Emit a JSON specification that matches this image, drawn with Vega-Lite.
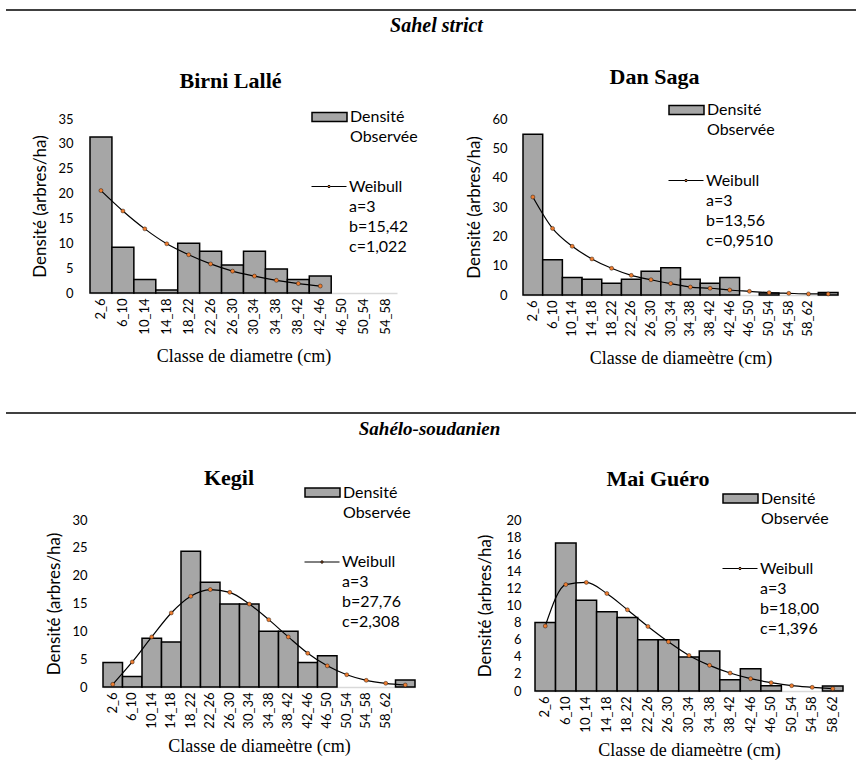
{
  "$schema": "https://vega.github.io/schema/vega-lite/v6.json",
  "padding": {"left": 5, "top": 9, "right": 0, "bottom": 0},
  "background": "white",
  "config": {
    "view": {"stroke": null},
    "style": {"guide-label": {"lineHeight": 20}},
    "legend": {"labelFont": "Lato", "labelFontSize": 16, "labelColor": "black", "padding": 0, "labelOffset": 2, "labelLimit": 200},
    "title": {"font": "Liberation Serif", "fontSize": 22, "fontWeight": "bold", "color": "black"}
  },
  "datasets": {
    "birni": [
      {"classe": "2_6", "dens": 31.4, "weib": 20.6},
      {"classe": "6_10", "dens": 9.2, "weib": 16.5},
      {"classe": "10_14", "dens": 2.7, "weib": 12.9},
      {"classe": "14_18", "dens": 0.6, "weib": 9.9},
      {"classe": "18_22", "dens": 10.0, "weib": 7.7},
      {"classe": "22_26", "dens": 8.4, "weib": 5.85},
      {"classe": "26_30", "dens": 5.65, "weib": 4.4},
      {"classe": "30_34", "dens": 8.4, "weib": 3.4},
      {"classe": "34_38", "dens": 4.85, "weib": 2.55},
      {"classe": "38_42", "dens": 2.7, "weib": 1.9},
      {"classe": "42_46", "dens": 3.4, "weib": 1.4},
      {"classe": "46_50", "dens": null, "weib": null},
      {"classe": "50_54", "dens": null, "weib": null},
      {"classe": "54_58", "dens": null, "weib": null}
    ],
    "dansaga": [
      {"classe": "2_6", "dens": 54.8, "weib": 33.4},
      {"classe": "6_10", "dens": 12.0, "weib": 22.7},
      {"classe": "10_14", "dens": 6.0, "weib": 16.6},
      {"classe": "14_18", "dens": 5.35, "weib": 12.3},
      {"classe": "18_22", "dens": 4.0, "weib": 9.1},
      {"classe": "22_26", "dens": 5.35, "weib": 6.7},
      {"classe": "26_30", "dens": 8.1, "weib": 5.2},
      {"classe": "30_34", "dens": 9.3, "weib": 3.9},
      {"classe": "34_38", "dens": 5.35, "weib": 2.7},
      {"classe": "38_42", "dens": 4.0, "weib": 2.3},
      {"classe": "42_46", "dens": 6.0, "weib": 1.7},
      {"classe": "46_50", "dens": null, "weib": 1.25},
      {"classe": "50_54", "dens": 0.7, "weib": 0.8},
      {"classe": "54_58", "dens": null, "weib": 0.57},
      {"classe": "58_62", "dens": null, "weib": 0.38},
      {"classe": "62_66", "dens": 0.85, "weib": 0.35}
    ],
    "kegil": [
      {"classe": "2_6", "dens": 4.4, "weib": 0.48},
      {"classe": "6_10", "dens": 1.9, "weib": 4.5},
      {"classe": "10_14", "dens": 8.76, "weib": 9.0},
      {"classe": "14_18", "dens": 8.1, "weib": 13.3},
      {"classe": "18_22", "dens": 24.4, "weib": 16.3},
      {"classe": "22_26", "dens": 18.8, "weib": 17.5},
      {"classe": "26_30", "dens": 14.9, "weib": 17.0},
      {"classe": "30_34", "dens": 14.9, "weib": 14.9},
      {"classe": "34_38", "dens": 10.0, "weib": 12.1},
      {"classe": "38_42", "dens": 10.0, "weib": 9.0},
      {"classe": "42_46", "dens": 4.4, "weib": 6.06},
      {"classe": "46_50", "dens": 5.6, "weib": 3.8},
      {"classe": "50_54", "dens": null, "weib": 2.2},
      {"classe": "54_58", "dens": null, "weib": 1.2},
      {"classe": "58_62", "dens": null, "weib": 0.66},
      {"classe": "62_66", "dens": 1.26, "weib": 0.36}
    ],
    "maiguero": [
      {"classe": "2_6", "dens": 8.0, "weib": 7.6},
      {"classe": "6_10", "dens": 17.3, "weib": 12.45},
      {"classe": "10_14", "dens": 10.6, "weib": 12.7},
      {"classe": "14_18", "dens": 9.26, "weib": 11.4},
      {"classe": "18_22", "dens": 8.6, "weib": 9.5},
      {"classe": "22_26", "dens": 6.0, "weib": 7.55},
      {"classe": "26_30", "dens": 6.0, "weib": 5.75},
      {"classe": "30_34", "dens": 3.97, "weib": 4.16},
      {"classe": "34_38", "dens": 4.67, "weib": 3.0},
      {"classe": "38_42", "dens": 1.32, "weib": 2.1},
      {"classe": "42_46", "dens": 2.6, "weib": 1.44},
      {"classe": "46_50", "dens": 0.62, "weib": 0.97},
      {"classe": "50_54", "dens": null, "weib": 0.62},
      {"classe": "54_58", "dens": null, "weib": 0.43},
      {"classe": "58_62", "dens": 0.58, "weib": 0.27}
    ]
  },
  "spacing": 44,
  "resolve": {"scale": {"fill": "independent", "stroke": "independent"}, "legend": {"fill": "independent", "stroke": "independent"}},
  "vconcat": [
    {
      "spacing": 24,
      "resolve": {"scale": {"fill": "independent", "stroke": "independent"}, "legend": {"fill": "independent", "stroke": "independent"}},
      "vconcat": [
        {
          "width": 851, "height": 32,
          "data": {"values": [{"label": "Sahel strict"}]},
          "layer": [
            {"mark": {"type": "rule", "stroke": "black", "strokeWidth": 1.5}, "encoding": {"y": {"datum": 1, "type": "quantitative", "scale": {"domain": [0, 1]}, "axis": null}}},
            {"mark": {"type": "text", "font": "Liberation Serif", "fontStyle": "italic", "fontWeight": "bold", "fontSize": 20, "dx": 5, "baseline": "middle"}, "encoding": {"text": {"field": "label"}, "y": {"datum": 0.5, "type": "quantitative"}}}
          ]
        },
        {
          "spacing": 0,
          "resolve": {"scale": {"fill": "independent", "stroke": "independent"}, "legend": {"fill": "independent", "stroke": "independent"}},
          "hconcat": [
            {"width": 25, "height": 1, "data": {"values": []}, "mark": {"type": "rule"}, "encoding": {}},
            {
              "spacing": 47,
              "resolve": {"scale": {"fill": "independent", "stroke": "independent"}, "legend": {"fill": "independent", "stroke": "independent"}},
              "hconcat": [
                {
                  "width": 307, "height": 174,
                  "title": {"text": "Birni Lallé", "dx": -13, "offset": 6},
                  "data": {"name": "birni"},
                  "encoding": {"x": {"field": "classe", "type": "nominal", "sort": null, "scale": {"domain": ["2_6","6_10","10_14","14_18","18_22","22_26","26_30","30_34","34_38","38_42","42_46","46_50","50_54","54_58"], "paddingInner": 0, "paddingOuter": 0}, "axis": {"title": "Classe de diametre (cm)", "labelAngle": -90, "labelFont": "Lato", "labelFontSize": 13, "labelColor": "black", "labelPadding": 5, "ticks": false, "grid": false, "domainColor": "#d9d9d9", "domainWidth": 1.5, "titleFont": "Liberation Serif", "titleFontSize": 18, "titleFontWeight": "normal", "titleColor": "black", "titlePadding": 13}}},
                  "layer": [
                    {"mark": {"type": "bar", "stroke": "black", "strokeWidth": 1.5}, "encoding": {
                      "y": {"field": "dens", "type": "quantitative", "scale": {"domain": [0, 35]}, "axis": {"values": [0,5,10,15,20,25,30,35], "title": "Densité (arbres/ha)", "domain": false, "ticks": false, "grid": false, "labelOverlap": false, "labelFont": "Lato", "labelFontSize": 13, "labelColor": "black", "labelPadding": 17, "titleFont": "Lato", "titleFontSize": 17, "titleFontWeight": "normal", "titleColor": "black", "titlePadding": 8}},
                      "fill": {"datum": "Densité", "scale": {"range": ["#A6A6A6"]}, "legend": {"orient": "none", "legendX": 221, "legendY": -20.5, "symbolType": "M-1,-0.26H1V0.26H-1Z", "symbolSize": 1225, "symbolStrokeColor": "black", "symbolStrokeWidth": 1.5, "labelExpr": "['Densité', 'Observée']", "title": null}}}},
                    {"mark": {"type": "line", "stroke": "black", "strokeWidth": 1.2, "interpolate": "monotone"}, "encoding": {
                      "y": {"field": "weib", "type": "quantitative", "scale": {"domain": [0, 35]}, "axis": {"values": [0,5,10,15,20,25,30,35], "title": "Densité (arbres/ha)", "domain": false, "ticks": false, "grid": false, "labelOverlap": false, "labelFont": "Lato", "labelFontSize": 13, "labelColor": "black", "labelPadding": 17, "titleFont": "Lato", "titleFontSize": 17, "titleFontWeight": "normal", "titleColor": "black", "titlePadding": 8}}}},
                    {"mark": {"type": "point", "filled": true, "fill": "#ED7D31", "size": 16, "strokeWidth": 0.4, "opacity": 1}, "encoding": {
                      "y": {"field": "weib", "type": "quantitative", "scale": {"domain": [0, 35]}, "axis": {"values": [0,5,10,15,20,25,30,35], "title": "Densité (arbres/ha)", "domain": false, "ticks": false, "grid": false, "labelOverlap": false, "labelFont": "Lato", "labelFontSize": 13, "labelColor": "black", "labelPadding": 17, "titleFont": "Lato", "titleFontSize": 17, "titleFontWeight": "normal", "titleColor": "black", "titlePadding": 8}},
                      "stroke": {"datum": "Weibull", "scale": {"range": ["black"]}, "legend": {"orient": "none", "legendX": 221, "legendY": 49.5, "symbolType": "M-1,0H-0.07M0.07,0H1M-0.07,0A0.07,0.07 0 1,0 0.07,0A0.07,0.07 0 1,0 -0.07,0Z", "symbolSize": 1225, "symbolStrokeColor": "black", "symbolStrokeWidth": 1, "symbolFillColor": "#ED7D31", "labelExpr": "['Weibull', 'a=3', 'b=15,42', 'c=1,022']", "title": null}}}}
                  ]
                },
                {
                  "width": 315, "height": 176,
                  "title": {"text": "Dan Saga", "dx": -26, "offset": 2.5},
                  "data": {"name": "dansaga"},
                  "encoding": {"x": {"field": "classe", "type": "nominal", "sort": null, "scale": {"domain": ["2_6","6_10","10_14","14_18","18_22","22_26","26_30","30_34","34_38","38_42","42_46","46_50","50_54","54_58","58_62","62_66"], "paddingInner": 0, "paddingOuter": 0}, "axis": {"title": "Classe de diameètre (cm)", "labelExpr": "datum.value == '62_66' ? '' : datum.value", "labelAngle": -90, "labelFont": "Lato", "labelFontSize": 13, "labelColor": "black", "labelPadding": 5, "ticks": false, "grid": false, "domainColor": "#d9d9d9", "domainWidth": 1.5, "titleFont": "Liberation Serif", "titleFontSize": 18, "titleFontWeight": "normal", "titleColor": "black", "titlePadding": 13}}},
                  "layer": [
                    {"mark": {"type": "bar", "stroke": "black", "strokeWidth": 1.5}, "encoding": {
                      "y": {"field": "dens", "type": "quantitative", "scale": {"domain": [0, 60]}, "axis": {"values": [0,10,20,30,40,50,60], "title": "Densité (arbres/ha)", "domain": false, "ticks": false, "grid": false, "labelOverlap": false, "labelFont": "Lato", "labelFontSize": 13, "labelColor": "black", "labelPadding": 16, "titleFont": "Lato", "titleFontSize": 17, "titleFontWeight": "normal", "titleColor": "black", "titlePadding": 8}},
                      "fill": {"datum": "Densité", "scale": {"range": ["#A6A6A6"]}, "legend": {"orient": "none", "legendX": 145, "legendY": -27.5, "symbolType": "M-1,-0.26H1V0.26H-1Z", "symbolSize": 1225, "symbolStrokeColor": "black", "symbolStrokeWidth": 1.5, "labelExpr": "['Densité', 'Observée']", "title": null}}}},
                    {"mark": {"type": "line", "stroke": "black", "strokeWidth": 1.2, "interpolate": "monotone"}, "encoding": {
                      "y": {"field": "weib", "type": "quantitative", "scale": {"domain": [0, 60]}, "axis": {"values": [0,10,20,30,40,50,60], "title": "Densité (arbres/ha)", "domain": false, "ticks": false, "grid": false, "labelOverlap": false, "labelFont": "Lato", "labelFontSize": 13, "labelColor": "black", "labelPadding": 16, "titleFont": "Lato", "titleFontSize": 17, "titleFontWeight": "normal", "titleColor": "black", "titlePadding": 8}}}},
                    {"mark": {"type": "point", "filled": true, "fill": "#ED7D31", "size": 16, "strokeWidth": 0.4, "opacity": 1}, "encoding": {
                      "y": {"field": "weib", "type": "quantitative", "scale": {"domain": [0, 60]}, "axis": {"values": [0,10,20,30,40,50,60], "title": "Densité (arbres/ha)", "domain": false, "ticks": false, "grid": false, "labelOverlap": false, "labelFont": "Lato", "labelFontSize": 13, "labelColor": "black", "labelPadding": 16, "titleFont": "Lato", "titleFontSize": 17, "titleFontWeight": "normal", "titleColor": "black", "titlePadding": 8}},
                      "stroke": {"datum": "Weibull", "scale": {"range": ["black"]}, "legend": {"orient": "none", "legendX": 145, "legendY": 43.5, "symbolType": "M-1,0H-0.07M0.07,0H1M-0.07,0A0.07,0.07 0 1,0 0.07,0A0.07,0.07 0 1,0 -0.07,0Z", "symbolSize": 1225, "symbolStrokeColor": "black", "symbolStrokeWidth": 1, "symbolFillColor": "#ED7D31", "labelExpr": "['Weibull', 'a=3', 'b=13,56', 'c=0,9510']", "title": null}}}}
                  ]
                }
              ]
            }
          ]
        }
      ]
    },
    {
      "spacing": 22,
      "resolve": {"scale": {"fill": "independent", "stroke": "independent"}, "legend": {"fill": "independent", "stroke": "independent"}},
      "vconcat": [
        {
          "width": 851, "height": 32,
          "data": {"values": [{"label": "Sahélo-soudanien"}]},
          "layer": [
            {"mark": {"type": "rule", "stroke": "black", "strokeWidth": 1.5}, "encoding": {"y": {"datum": 1, "type": "quantitative", "scale": {"domain": [0, 1]}, "axis": null}}},
            {"mark": {"type": "text", "font": "Liberation Serif", "fontStyle": "italic", "fontWeight": "bold", "fontSize": 19, "dx": -2, "baseline": "middle"}, "encoding": {"text": {"field": "label"}, "y": {"datum": 0.5, "type": "quantitative"}}}
          ]
        },
        {
          "spacing": 0,
          "resolve": {"scale": {"fill": "independent", "stroke": "independent"}, "legend": {"fill": "independent", "stroke": "independent"}},
          "hconcat": [
            {"width": 39, "height": 1, "data": {"values": []}, "mark": {"type": "rule"}, "encoding": {}},
            {
              "spacing": 60,
              "resolve": {"scale": {"fill": "independent", "stroke": "independent"}, "legend": {"fill": "independent", "stroke": "independent"}},
              "hconcat": [
                {
                  "width": 312, "height": 167,
                  "title": {"text": "Kegil", "dx": -30, "offset": -16},
                  "data": {"name": "kegil"},
                  "encoding": {"x": {"field": "classe", "type": "nominal", "sort": null, "scale": {"domain": ["2_6","6_10","10_14","14_18","18_22","22_26","26_30","30_34","34_38","38_42","42_46","46_50","50_54","54_58","58_62","62_66"], "paddingInner": 0, "paddingOuter": 0}, "axis": {"title": "Classe de diameètre (cm)", "labelExpr": "datum.value == '62_66' ? '' : datum.value", "labelAngle": -90, "labelFont": "Lato", "labelFontSize": 13, "labelColor": "black", "labelPadding": 5, "ticks": false, "grid": false, "domainColor": "#d9d9d9", "domainWidth": 1.5, "titleFont": "Liberation Serif", "titleFontSize": 18, "titleFontWeight": "normal", "titleColor": "black", "titlePadding": 9}}},
                  "layer": [
                    {"mark": {"type": "bar", "stroke": "black", "strokeWidth": 1.5}, "encoding": {
                      "y": {"field": "dens", "type": "quantitative", "scale": {"domain": [0, 30]}, "axis": {"values": [0,5,10,15,20,25,30], "title": "Densité (arbres/ha)", "domain": false, "ticks": false, "grid": false, "labelOverlap": false, "labelFont": "Lato", "labelFontSize": 13, "labelColor": "black", "labelPadding": 16, "titleFont": "Lato", "titleFontSize": 17, "titleFontWeight": "normal", "titleColor": "black", "titlePadding": 8}},
                      "fill": {"datum": "Densité", "scale": {"range": ["#A6A6A6"]}, "legend": {"orient": "none", "legendX": 201, "legendY": -46, "symbolType": "M-1,-0.26H1V0.26H-1Z", "symbolSize": 1225, "symbolStrokeColor": "black", "symbolStrokeWidth": 1.5, "labelExpr": "['Densité', 'Observée']", "title": null}}}},
                    {"mark": {"type": "line", "stroke": "black", "strokeWidth": 1.2, "interpolate": "monotone"}, "encoding": {
                      "y": {"field": "weib", "type": "quantitative", "scale": {"domain": [0, 30]}, "axis": {"values": [0,5,10,15,20,25,30], "title": "Densité (arbres/ha)", "domain": false, "ticks": false, "grid": false, "labelOverlap": false, "labelFont": "Lato", "labelFontSize": 13, "labelColor": "black", "labelPadding": 16, "titleFont": "Lato", "titleFontSize": 17, "titleFontWeight": "normal", "titleColor": "black", "titlePadding": 8}}}},
                    {"mark": {"type": "point", "filled": true, "fill": "#ED7D31", "size": 16, "strokeWidth": 0.4, "opacity": 1}, "encoding": {
                      "y": {"field": "weib", "type": "quantitative", "scale": {"domain": [0, 30]}, "axis": {"values": [0,5,10,15,20,25,30], "title": "Densité (arbres/ha)", "domain": false, "ticks": false, "grid": false, "labelOverlap": false, "labelFont": "Lato", "labelFontSize": 13, "labelColor": "black", "labelPadding": 16, "titleFont": "Lato", "titleFontSize": 17, "titleFontWeight": "normal", "titleColor": "black", "titlePadding": 8}},
                      "stroke": {"datum": "Weibull", "scale": {"range": ["black"]}, "legend": {"orient": "none", "legendX": 201, "legendY": 24, "symbolType": "M-1,0H-0.07M0.07,0H1M-0.07,0A0.07,0.07 0 1,0 0.07,0A0.07,0.07 0 1,0 -0.07,0Z", "symbolSize": 1225, "symbolStrokeColor": "black", "symbolStrokeWidth": 1, "symbolFillColor": "#ED7D31", "labelExpr": "['Weibull', 'a=3', 'b=27,76', 'c=2,308']", "title": null}}}}
                  ]
                },
                {
                  "width": 308, "height": 171,
                  "title": {"text": "Mai Guéro", "dx": -31, "offset": -11},
                  "data": {"name": "maiguero"},
                  "encoding": {"x": {"field": "classe", "type": "nominal", "sort": null, "scale": {"domain": ["2_6","6_10","10_14","14_18","18_22","22_26","26_30","30_34","34_38","38_42","42_46","46_50","50_54","54_58","58_62"], "paddingInner": 0, "paddingOuter": 0}, "axis": {"title": "Classe de diameètre (cm)", "labelAngle": -90, "labelFont": "Lato", "labelFontSize": 13, "labelColor": "black", "labelPadding": 5, "ticks": false, "grid": false, "domainColor": "#d9d9d9", "domainWidth": 1.5, "titleFont": "Liberation Serif", "titleFontSize": 18, "titleFontWeight": "normal", "titleColor": "black", "titlePadding": 9}}},
                  "layer": [
                    {"mark": {"type": "bar", "stroke": "black", "strokeWidth": 1.5}, "encoding": {
                      "y": {"field": "dens", "type": "quantitative", "scale": {"domain": [0, 20]}, "axis": {"values": [0,2,4,6,8,10,12,14,16,18,20], "title": "Densité (arbres/ha)", "domain": false, "ticks": false, "grid": false, "labelOverlap": false, "labelFont": "Lato", "labelFontSize": 13, "labelColor": "black", "labelPadding": 14, "titleFont": "Lato", "titleFontSize": 17, "titleFontWeight": "normal", "titleColor": "black", "titlePadding": 11}},
                      "fill": {"datum": "Densité", "scale": {"range": ["#A6A6A6"]}, "legend": {"orient": "none", "legendX": 187, "legendY": -40, "symbolType": "M-1,-0.26H1V0.26H-1Z", "symbolSize": 1225, "symbolStrokeColor": "black", "symbolStrokeWidth": 1.5, "labelExpr": "['Densité', 'Observée']", "title": null}}}},
                    {"mark": {"type": "line", "stroke": "black", "strokeWidth": 1.2, "interpolate": "monotone"}, "encoding": {
                      "y": {"field": "weib", "type": "quantitative", "scale": {"domain": [0, 20]}, "axis": {"values": [0,2,4,6,8,10,12,14,16,18,20], "title": "Densité (arbres/ha)", "domain": false, "ticks": false, "grid": false, "labelOverlap": false, "labelFont": "Lato", "labelFontSize": 13, "labelColor": "black", "labelPadding": 14, "titleFont": "Lato", "titleFontSize": 17, "titleFontWeight": "normal", "titleColor": "black", "titlePadding": 11}}}},
                    {"mark": {"type": "point", "filled": true, "fill": "#ED7D31", "size": 16, "strokeWidth": 0.4, "opacity": 1}, "encoding": {
                      "y": {"field": "weib", "type": "quantitative", "scale": {"domain": [0, 20]}, "axis": {"values": [0,2,4,6,8,10,12,14,16,18,20], "title": "Densité (arbres/ha)", "domain": false, "ticks": false, "grid": false, "labelOverlap": false, "labelFont": "Lato", "labelFontSize": 13, "labelColor": "black", "labelPadding": 14, "titleFont": "Lato", "titleFontSize": 17, "titleFontWeight": "normal", "titleColor": "black", "titlePadding": 11}},
                      "stroke": {"datum": "Weibull", "scale": {"range": ["black"]}, "legend": {"orient": "none", "legendX": 187, "legendY": 30.5, "symbolType": "M-1,0H-0.07M0.07,0H1M-0.07,0A0.07,0.07 0 1,0 0.07,0A0.07,0.07 0 1,0 -0.07,0Z", "symbolSize": 1225, "symbolStrokeColor": "black", "symbolStrokeWidth": 1, "symbolFillColor": "#ED7D31", "labelExpr": "['Weibull', 'a=3', 'b=18,00', 'c=1,396']", "title": null}}}}
                  ]
                }
              ]
            }
          ]
        }
      ]
    }
  ]
}
